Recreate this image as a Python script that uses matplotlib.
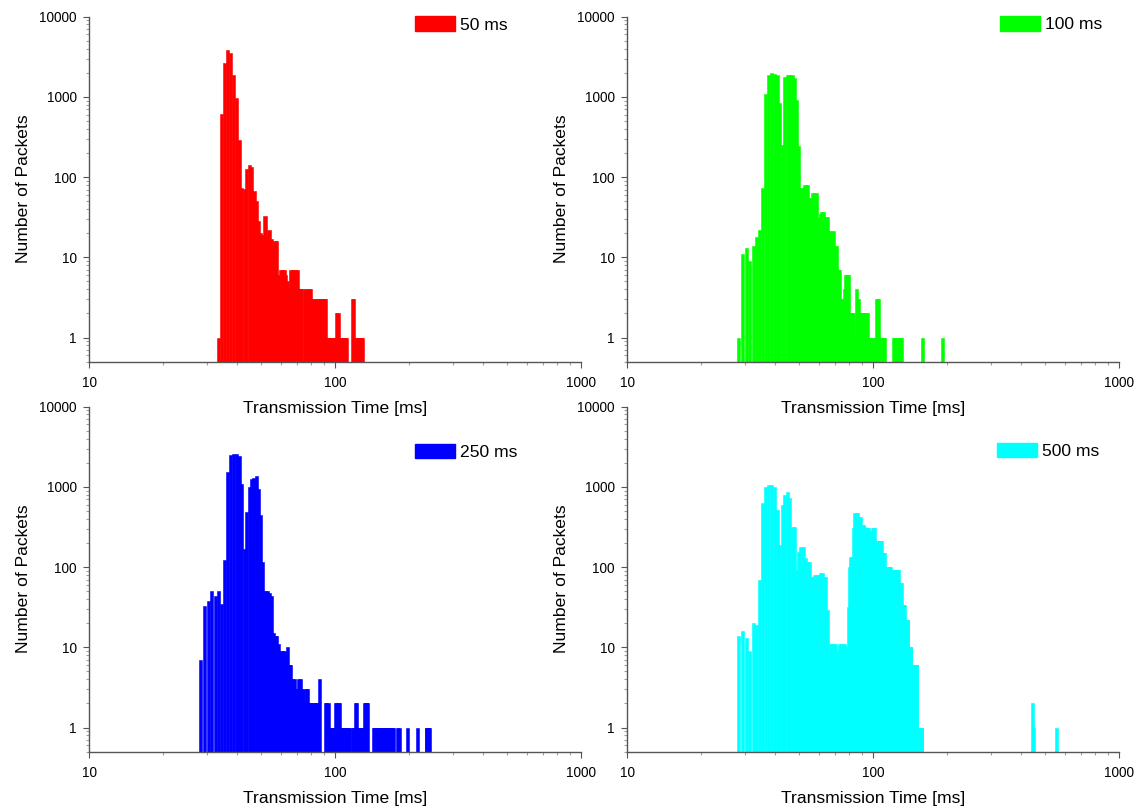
import matplotlib
matplotlib.use("Agg")
import matplotlib.pyplot as plt
from matplotlib.patches import Patch
from matplotlib.ticker import LogLocator, NullFormatter, FixedLocator, FixedFormatter

plt.rcParams['font.family'] = ['Liberation Sans', 'DejaVu Sans']

# ---------------- data (bin start in ms, packet count) ----------------
t_50 = [33, 34, 35, 36, 37, 38, 39, 40, 41, 42,
        43, 44, 45, 46, 47, 48, 49, 50, 51, 52,
        53, 54, 55, 56, 57, 58, 59, 60, 61, 62,
        63, 64, 65, 66, 67, 68, 69, 70, 71, 72,
        74, 75, 76, 77, 78, 79, 80, 81, 82, 83,
        84, 85, 86, 87, 88, 89, 90, 92, 93, 94,
        95, 96, 97, 98, 99, 100, 101, 102, 103, 104,
        105, 106, 107, 108, 109, 116, 117, 119, 120, 121,
        122, 123, 124, 125, 126, 127]
n_50 = [1, 620, 2650, 3850, 3500, 1900, 960, 290, 74, 71,
        125, 140, 133, 67, 50, 28, 20, 19, 33, 18,
        22, 17, 14, 16, 16, 6, 7, 7, 7, 6,
        5, 4, 7, 7, 7, 7, 7, 4, 4, 4,
        4, 4, 3, 4, 4, 3, 3, 2, 3, 3,
        3, 3, 3, 3, 3, 3, 3, 1, 1, 1,
        1, 1, 1, 1, 1, 2, 2, 1, 1, 1,
        1, 1, 1, 1, 1, 3, 3, 1, 1, 1,
        1, 1, 1, 1, 1, 1]

t_100 = [28, 29, 30, 31, 32, 33, 34, 35, 36, 37,
         38, 39, 40, 41, 42, 43, 44, 45, 46, 47,
         48, 49, 50, 51, 52, 53, 54, 55, 56, 57,
         58, 59, 60, 61, 62, 63, 64, 65, 66, 67,
         68, 69, 70, 71, 72, 73, 74, 75, 76, 77,
         78, 79, 80, 81, 82, 83, 84, 85, 86, 87,
         88, 89, 90, 91, 92, 93, 94, 95, 96, 97,
         98, 99, 100, 101, 102, 103, 104, 105, 106, 107,
         108, 109, 119, 120, 121, 122, 125, 126, 127, 128,
         156, 188]
n_100 = [1, 11, 13, 9, 14, 18, 22, 74, 1100, 1850,
         1970, 1950, 1880, 850, 250, 1790, 1850, 1880, 1880, 1700,
         916, 245, 73, 73, 80, 80, 55, 55, 64, 64,
         64, 31, 35, 37, 37, 32, 32, 21, 21, 20,
         21, 14, 14, 7, 7, 3, 3, 4, 6, 6,
         6, 2, 2, 2, 2, 1, 4, 3, 3, 2,
         2, 2, 2, 2, 2, 2, 1, 1, 1, 1,
         1, 1, 1, 1, 3, 3, 1, 1, 1, 1,
         1, 1, 1, 1, 1, 1, 1, 1, 1, 1,
         1, 1]

t_250 = [28, 29, 30, 31, 32, 33, 34, 35, 36, 37,
         38, 39, 40, 41, 42, 43, 44, 45, 46, 47,
         48, 49, 50, 51, 52, 53, 54, 55, 56, 57,
         58, 59, 60, 61, 62, 63, 64, 65, 66, 67,
         68, 69, 70, 71, 72, 73, 74, 75, 76, 77,
         78, 79, 80, 81, 82, 83, 84, 85, 90, 91,
         92, 93, 94, 95, 96, 97, 98, 99, 100, 101,
         102, 103, 104, 105, 106, 107, 108, 109, 110, 111,
         112, 116, 117, 118, 119, 120, 121, 122, 123, 124,
         126, 127, 128, 129, 130, 131, 132, 133, 141, 142,
         143, 146, 147, 148, 150, 151, 153, 155, 158, 159,
         161, 163, 165, 166, 168, 170, 177, 179, 194, 213,
         231, 232, 235, 236, 238]
n_250 = [7, 33, 38, 51, 44, 51, 35, 123, 1550, 2500,
         2600, 2600, 2450, 1100, 170, 490, 1000, 1250, 1300, 1350,
         930, 450, 117, 51, 51, 48, 44, 15, 14, 14,
         11, 9, 9, 9, 8, 10, 6, 6, 4, 4,
         3, 3, 4, 4, 3, 3, 2, 3, 3, 2,
         2, 2, 2, 2, 2, 2, 2, 4, 2, 2,
         2, 1, 1, 1, 1, 1, 1, 2, 2, 2,
         2, 1, 1, 1, 1, 1, 1, 1, 1, 1,
         1, 1, 1, 1, 2, 2, 1, 1, 1, 1,
         1, 1, 1, 1, 2, 2, 2, 2, 1, 1,
         1, 1, 1, 1, 1, 1, 1, 1, 1, 1,
         1, 1, 1, 1, 1, 1, 1, 1, 1, 1,
         1, 1, 1, 1, 1]

t_500 = [28, 29, 30, 31, 32, 33, 34, 35, 36, 37,
         38, 39, 40, 41, 42, 43, 44, 45, 46, 47,
         48, 49, 50, 51, 52, 53, 54, 55, 56, 57,
         58, 59, 60, 61, 62, 63, 64, 65, 66, 67,
         68, 69, 70, 71, 72, 73, 74, 75, 76, 77,
         78, 79, 80, 81, 82, 83, 84, 85, 86, 87,
         88, 89, 90, 91, 92, 93, 94, 95, 96, 97,
         98, 99, 100, 101, 102, 103, 104, 105, 106, 107,
         108, 109, 110, 111, 112, 113, 114, 115, 116, 117,
         118, 119, 120, 121, 122, 123, 124, 125, 126, 127,
         128, 129, 130, 131, 132, 133, 134, 135, 136, 137,
         138, 139, 140, 141, 142, 143, 144, 145, 146, 147,
         148, 149, 150, 151, 152, 153, 154, 155, 438, 441, 548]
n_500 = [14, 16, 13, 9, 20, 19, 69, 625, 1000, 1050,
         1050, 1000, 520, 190, 600, 790, 870, 720, 320, 320,
         92, 156, 180, 180, 129, 117, 117, 76, 76, 80,
         80, 80, 84, 84, 76, 76, 29, 5, 11, 11,
         11, 11, 9, 9, 11, 11, 11, 11, 10, 10,
         32, 101, 135, 135, 305, 470, 470, 470, 426, 426,
         336, 336, 336, 320, 305, 305, 305, 285, 285, 285,
         305, 305, 305, 189, 189, 212, 212, 212, 212, 149,
         149, 149, 92, 92, 92, 101, 101, 101, 101, 92,
         92, 92, 92, 92, 92, 92, 92, 92, 63, 63,
         63, 34, 34, 34, 34, 22, 22, 22, 22, 10,
         10, 10, 10, 6, 6, 6, 6, 6, 6, 6,
         6, 1, 1, 1, 1, 1, 1, 1, 2, 1, 1]

series_labels = ["50 ms", "100 ms", "250 ms", "500 ms"]
series_colors = ["#FF0000", "#00FF00", "#0000FF", "#00FFFF"]
y_ticks = [1, 10, 100, 1000, 10000]
y_tick_labels = ["1", "10", "100", "1000", "10000"]
x_ticks = [10, 100, 1000]
x_tick_labels = ["10", "100", "1000"]

# columns are drawn with a constant width on the log axis (as in the original plot)
COL_LOG_WIDTH = 0.0131

# ---------------- figure ----------------
fig = plt.figure(figsize=(11.43, 8.08), dpi=100)

axes_rects = [
    [0.0781, 0.5524, 0.4304, 0.4270],
    [0.5488, 0.5524, 0.4304, 0.4270],
    [0.0781, 0.0697, 0.4304, 0.4270],
    [0.5488, 0.0697, 0.4304, 0.4270],
]
legend_anchor = [(0.662, 0.977), (0.7575, 0.978), (0.662, 0.869), (0.751, 0.872)]

data = [(t_50, n_50), (t_100, n_100), (t_250, n_250), (t_500, n_500)]
spine_col = "#555555"

for i, (t, n) in enumerate(data):
    ax = fig.add_axes(axes_rects[i])
    ax.patch.set_alpha(0)
    ax.set_xscale('log')
    ax.set_yscale('log')
    c = series_colors[i]
    widths = [v * (10 ** COL_LOG_WIDTH - 1) for v in t]
    ax.bar(t, n, width=widths, align='edge', color=c, edgecolor=c, linewidth=0.4)
    ax.set_xlim(10, 1000)
    ax.set_ylim(0.5, 10000)

    for s in ['top', 'right']:
        ax.spines[s].set_visible(False)
    for s in ['left', 'bottom']:
        ax.spines[s].set_color(spine_col)
        ax.spines[s].set_linewidth(1.0)

    ax.xaxis.set_major_locator(FixedLocator(x_ticks))
    ax.xaxis.set_major_formatter(FixedFormatter(x_tick_labels))
    ax.yaxis.set_major_locator(FixedLocator(y_ticks))
    ax.yaxis.set_major_formatter(FixedFormatter(y_tick_labels))
    ax.xaxis.set_minor_locator(LogLocator(base=10, subs=range(2, 10), numticks=20))
    ax.yaxis.set_minor_locator(LogLocator(base=10, subs=range(2, 10), numticks=20))
    ax.xaxis.set_minor_formatter(NullFormatter())
    ax.yaxis.set_minor_formatter(NullFormatter())

    ax.tick_params(which='major', direction='out', length=4.5, width=0.8,
                   color=spine_col, labelsize=9.8, pad=4.5, labelcolor='black')
    ax.tick_params(axis='x', which='major', pad=5.5)
    ax.tick_params(which='minor', direction='out', length=2.5, width=0.8,
                   color='#A0A0A0')

    ax.set_xlabel('Transmission Time [ms]', fontsize=12.6, labelpad=8.5)
    ax.set_ylabel('Number of Packets', fontsize=12.6, labelpad=6)

    handle = Patch(facecolor=c, edgecolor=c)
    ax.legend([handle], [series_labels[i]], loc='center left',
              bbox_to_anchor=legend_anchor[i], frameon=False,
              handlelength=2.3, handleheight=0.92, handletextpad=0.3,
              borderpad=0, borderaxespad=0, fontsize=12.6)

fig.savefig("out.png", dpi=100)
